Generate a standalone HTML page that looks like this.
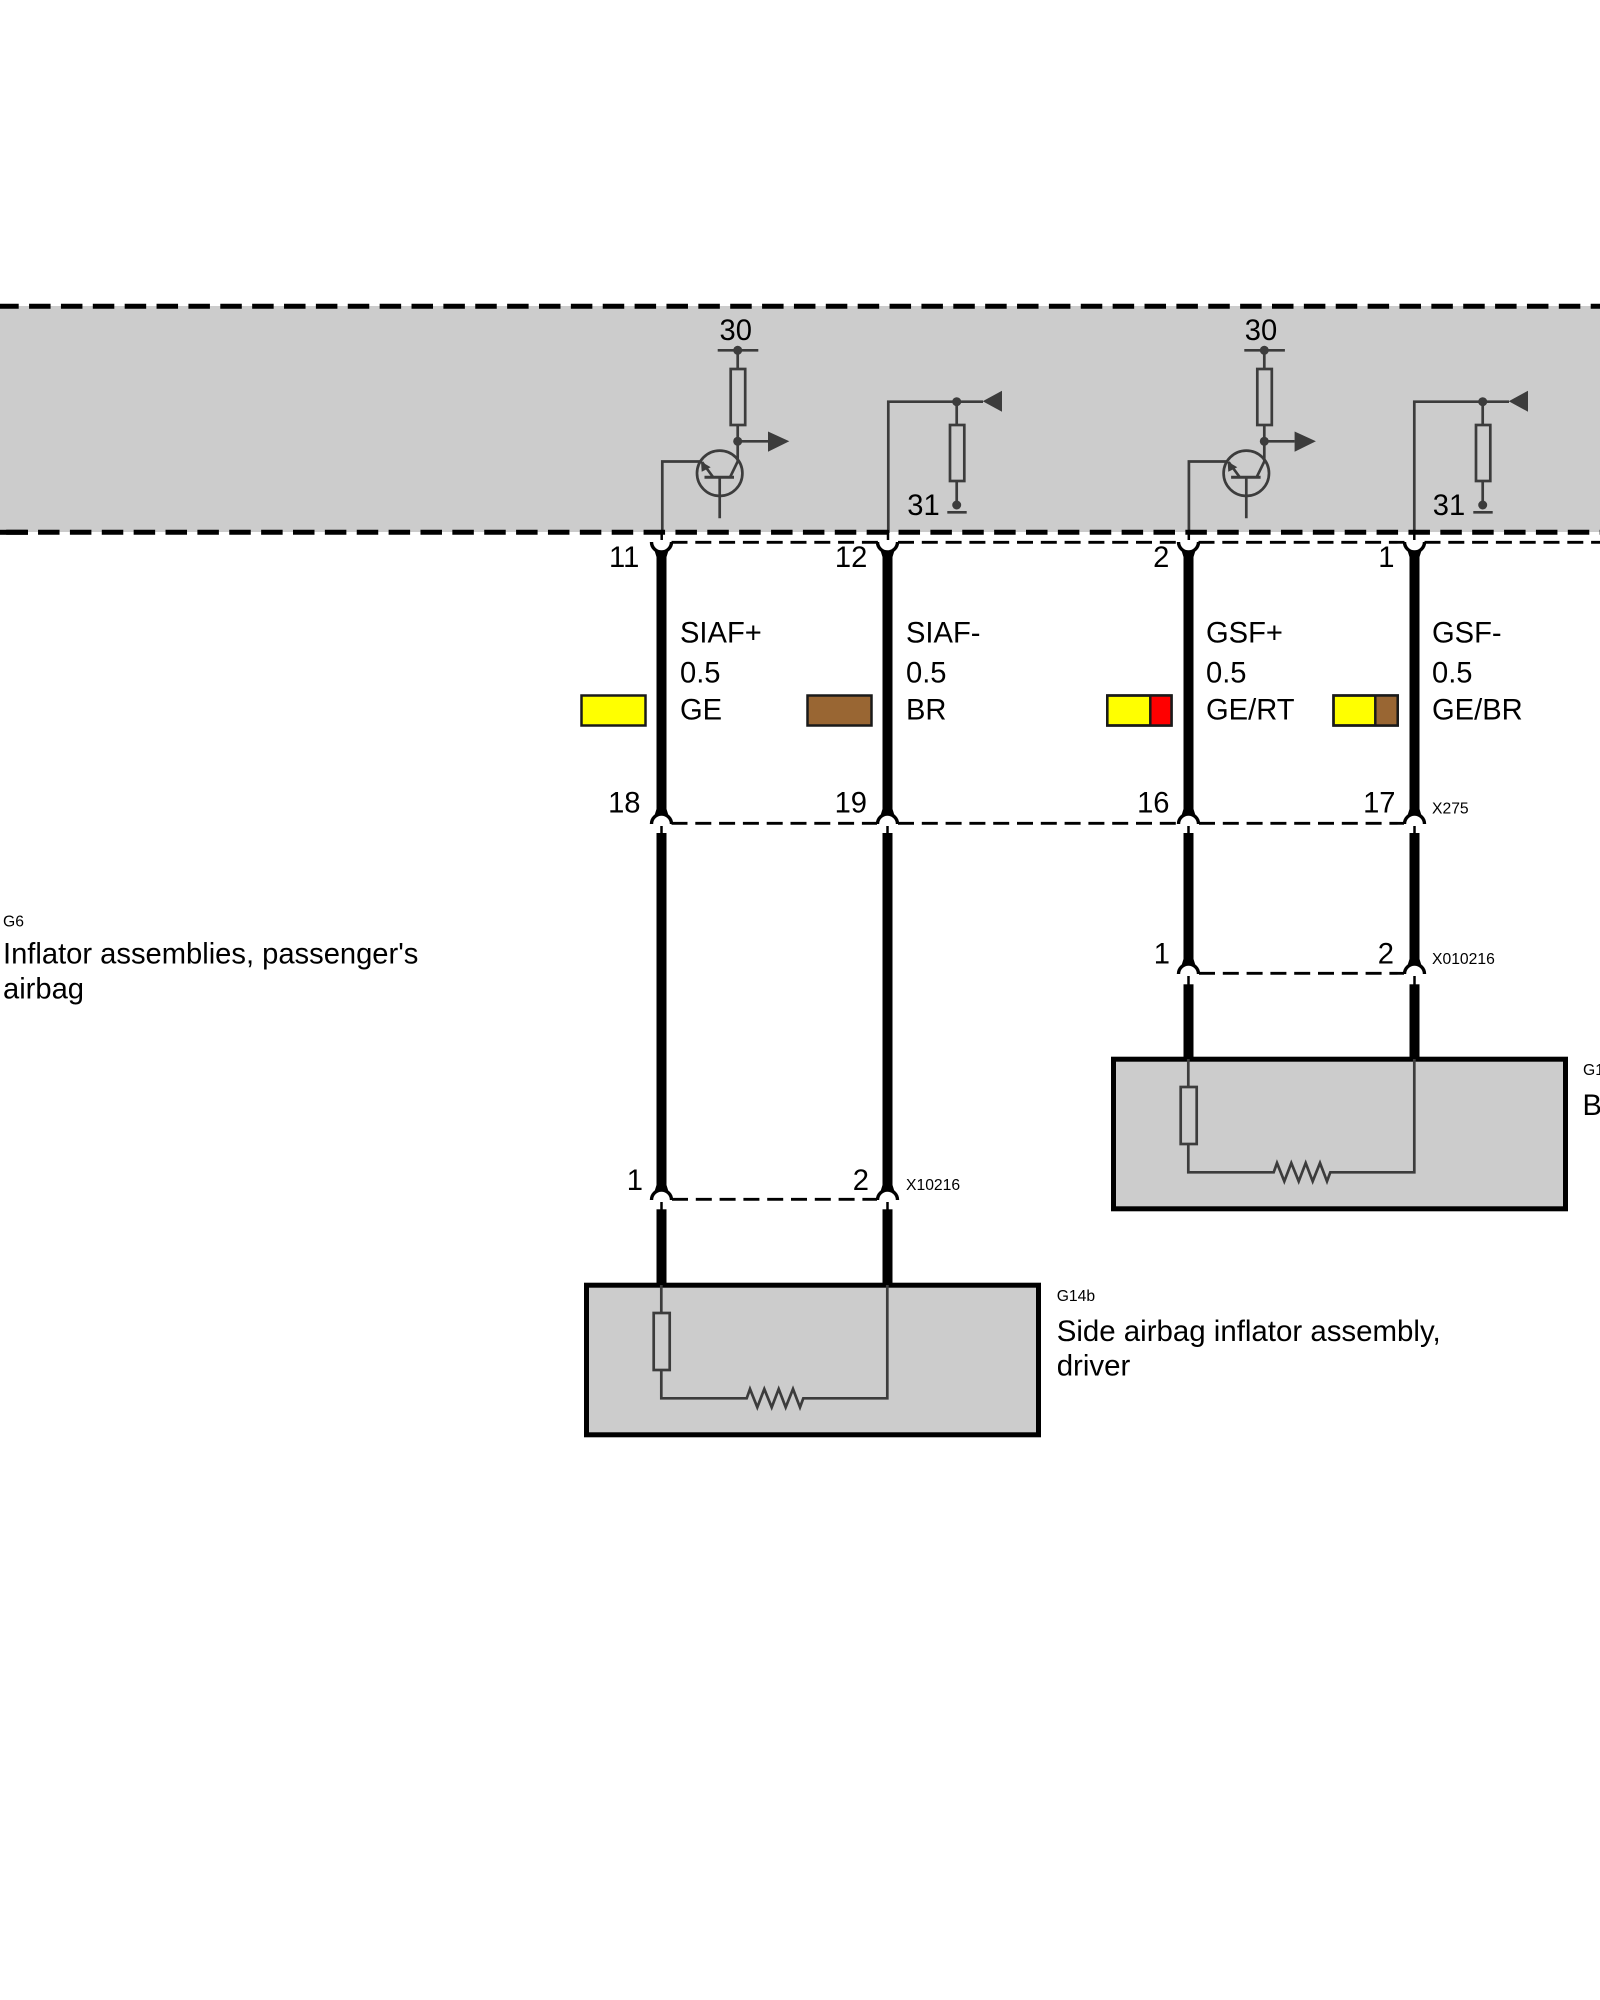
<!DOCTYPE html>
<html><head><meta charset="utf-8"><style>
html,body{margin:0;padding:0;background:#fff;width:1600px;height:2000px;overflow:hidden}
svg{display:block}
text{font-family:"Liberation Sans",sans-serif;font-size:29.15px;fill:#000}
.s{font-size:15.7px}
.w{font-size:29.45px}
.t{fill:none;stroke:#3c3c3c;stroke-width:2.7}
.d{stroke:#000;stroke-width:2.8;stroke-dasharray:16 7.8;fill:none}
.a{fill:none;stroke:#000;stroke-width:3.4}
.sw{stroke:#1a1a1a;stroke-width:2.5}
</style></head><body>
<svg width="1600" height="2000" viewBox="0 0 1600 2000" xmlns="http://www.w3.org/2000/svg">
<defs>
<g id="tr">
<path class="t" d="M662.3 533V461.5H702"/>
<circle class="t" cx="719.7" cy="473.3" r="22.7"/>
<path class="t" d="M713 477L702 462M737.7 350.5V369M737.7 425V461.5L730 477.3M719.7 477.3V518.3"/>
<path d="M704.5 477.3H734" stroke="#3c3c3c" stroke-width="3" fill="none"/>
<polygon points="701,461.5 701.7,471.7 710.7,467.3" fill="#3c3c3c"/>
<path class="t" d="M717.7 350.3H758.3"/>
<circle cx="737.7" cy="350.3" r="4.5" fill="#3c3c3c"/>
<rect class="t" x="730.7" y="369" width="14.5" height="56"/>
<circle cx="737.7" cy="441.3" r="4.5" fill="#3c3c3c"/>
<path class="t" d="M737.7 441.3H768"/>
<polygon points="768,431.5 768,451.7 789.3,441.3" fill="#3c3c3c"/>
</g>
<g id="gn">
<path class="t" d="M888.3 533V401.7H983M956.7 401.7V425M956.7 481V505M947.3 512.3H966.7"/>
<circle cx="956.7" cy="401.7" r="4.5" fill="#3c3c3c"/>
<rect class="t" x="950" y="425" width="14.3" height="56"/>
<circle cx="956.7" cy="505" r="4.5" fill="#3c3c3c"/>
<polygon points="982.7,401.2 1002,390.7 1002,411.7" fill="#3c3c3c"/>
</g>
<g id="bx">
<rect x="586.5" y="1285.2" width="452" height="149.6" fill="#cccccc" stroke="#000" stroke-width="5"/>
<path class="t" d="M661.3 1285V1313M661.3 1370V1398.3H746.7L750 1389L757.3 1407.3L764.3 1389L771.7 1407.3L778.7 1389L785.7 1407.3L793 1389L800 1407.3L803.3 1398.3H887.3V1285"/>
<rect class="t" x="653.7" y="1313" width="16" height="57"/>
</g>
<g id="cup">
<path class="a" d="M-10 0A10 10 0 0 0 10 0"/>
<polygon points="-7.5,7 0,10.5 7.5,7 5,15 -5,15"/>
</g>
<g id="cap">
<path class="a" d="M-10 0A10 10 0 0 1 10 0"/>
<polygon points="-7.5,-7 0,-10.5 7.5,-7 5,-15 -5,-15"/>
</g>
</defs>

<rect x="0" y="306" width="1600" height="226" fill="#cccccc"/>

<use href="#tr"/>
<use href="#tr" x="526.6"/>
<use href="#gn"/>
<use href="#gn" x="526"/>

<path d="M-2.8 306.3H1600" stroke="#000" stroke-width="5" stroke-dasharray="21.5 10.37" fill="none"/>
<path d="M-25.7 532.3H1600" stroke="#000" stroke-width="5" stroke-dasharray="21.5 10.37" fill="none"/>
<rect x="0" y="529.8" width="28" height="5" fill="#000"/>

<!-- thin stubs below the boundary -->
<path d="M661.7 530V540M888 530V540M1188.8 530V540M1414.3 530V540" stroke="#000" stroke-width="2.5" fill="none"/>

<!-- upper connector line y=542.3 -->
<path class="d" d="M671.5 542.3H878"/>
<path class="d" d="M898 542.3H1178.5"/>
<path class="d" d="M1198.5 542.3H1404.5"/>
<path class="d" d="M1424.5 542.3H1600"/>
<use href="#cup" x="661.5" y="542"/>
<use href="#cup" x="887.5" y="542"/>
<use href="#cup" x="1188.5" y="542"/>
<use href="#cup" x="1414.5" y="542"/>

<!-- connector line y=823.3 -->
<path class="d" d="M671.5 823.3H877"/>
<path class="d" d="M898 823.3H1178"/>
<path class="d" d="M1199 823.3H1404"/>
<use href="#cap" x="661.5" y="824"/>
<use href="#cap" x="887.5" y="824"/>
<use href="#cap" x="1188.5" y="824"/>
<use href="#cap" x="1414.5" y="824"/>
<path d="M661.5 826V834M887.5 826V834M1188.5 826V834M1414.5 826V834" stroke="#000" stroke-width="2.5" fill="none"/>

<!-- connector line y=973.3 -->
<path class="d" d="M1199 973.3H1404"/>
<use href="#cap" x="1188.5" y="974"/>
<use href="#cap" x="1414.5" y="974"/>
<path d="M1188.5 976V985M1414.5 976V985" stroke="#000" stroke-width="2.5" fill="none"/>

<!-- connector line y=1199.3 -->
<path class="d" d="M672 1199.3H877"/>
<use href="#cap" x="661.5" y="1200"/>
<use href="#cap" x="887.5" y="1200"/>
<path d="M661.5 1202V1210M887.5 1202V1210" stroke="#000" stroke-width="2.5" fill="none"/>

<!-- thick wires -->
<g fill="#000">
<rect x="656.5" y="553" width="10" height="262"/>
<rect x="882.5" y="553" width="10" height="262"/>
<rect x="1183.5" y="553" width="10" height="262"/>
<rect x="1409.5" y="553" width="10" height="262"/>
<rect x="656.5" y="833" width="10" height="358"/>
<rect x="882.5" y="833" width="10" height="358"/>
<rect x="656.5" y="1209.3" width="10" height="75"/>
<rect x="882.5" y="1209.3" width="10" height="75"/>
<rect x="1183.5" y="833" width="10" height="132"/>
<rect x="1409.5" y="833" width="10" height="132"/>
<rect x="1183.5" y="984.3" width="10" height="75"/>
<rect x="1409.5" y="984.3" width="10" height="75"/>
</g>

<use href="#bx"/>
<use href="#bx" x="527" y="-226"/>

<!-- swatches -->
<rect class="sw" x="581.5" y="695.5" width="64" height="30" fill="#ffff00"/>
<rect class="sw" x="807.5" y="695.5" width="64" height="30" fill="#996633"/>
<rect class="sw" x="1107.3" y="695.5" width="64.2" height="30" fill="#ffff00"/>
<rect x="1150.3" y="695.5" width="21.2" height="30" fill="#ff0000"/>
<path class="sw" fill="none" d="M1150.3 695V726M1107.3 695.5H1171.5V725.5H1107.3Z"/>
<rect class="sw" x="1333.5" y="695.5" width="64.2" height="30" fill="#ffff00"/>
<rect x="1375.3" y="695.5" width="22.4" height="30" fill="#996633"/>
<path class="sw" fill="none" d="M1375.3 695V726M1333.5 695.5H1397.7V725.5H1333.5Z"/>

<!-- texts -->
<text x="735.7" y="340" text-anchor="middle">30</text>
<text x="1261" y="340" text-anchor="middle">30</text>
<text x="923.5" y="515" text-anchor="middle">31</text>
<text x="1449" y="515" text-anchor="middle">31</text>

<text x="639.3" y="567" text-anchor="end">11</text>
<text x="867.3" y="567" text-anchor="end">12</text>
<text x="1169.3" y="567" text-anchor="end">2</text>
<text x="1394.5" y="567" text-anchor="end">1</text>

<text x="640.5" y="812.7" text-anchor="end">18</text>
<text x="867" y="812.7" text-anchor="end">19</text>
<text x="1169.5" y="812.7" text-anchor="end">16</text>
<text x="1395.5" y="812.7" text-anchor="end">17</text>

<text x="1170" y="963.3" text-anchor="end">1</text>
<text x="1394" y="963.3" text-anchor="end">2</text>
<text x="643" y="1190" text-anchor="end">1</text>
<text x="869" y="1190" text-anchor="end">2</text>

<text x="680" y="642.3">SIAF+</text>
<text x="680" y="682.7">0.5</text>
<text x="680" y="719.3">GE</text>
<text x="906" y="642.3">SIAF-</text>
<text x="906" y="682.7">0.5</text>
<text x="906" y="719.3">BR</text>
<text x="1206" y="642.3">GSF+</text>
<text x="1206" y="682.7">0.5</text>
<text x="1206" y="719.3">GE/RT</text>
<text x="1432" y="642.3">GSF-</text>
<text x="1432" y="682.7">0.5</text>
<text x="1432" y="719.3">GE/BR</text>

<text class="s" x="1432" y="813.3">X275</text>
<text class="s" x="1432" y="964">X010216</text>
<text class="s" x="906" y="1190">X10216</text>

<text class="s" x="3" y="926.7">G6</text>
<text x="3" y="963.3">Inflator assemblies, passenger's</text>
<text x="3" y="998.3">airbag</text>

<text class="s" x="1056.7" y="1301">G14b</text>
<text class="w" x="1056.7" y="1341">Side airbag inflator assembly,</text>
<text class="w" x="1056.7" y="1375.7">driver</text>

<text class="s" x="1583" y="1075">G1</text>
<text x="1582.5" y="1115">B</text>
</svg>
</body></html>
